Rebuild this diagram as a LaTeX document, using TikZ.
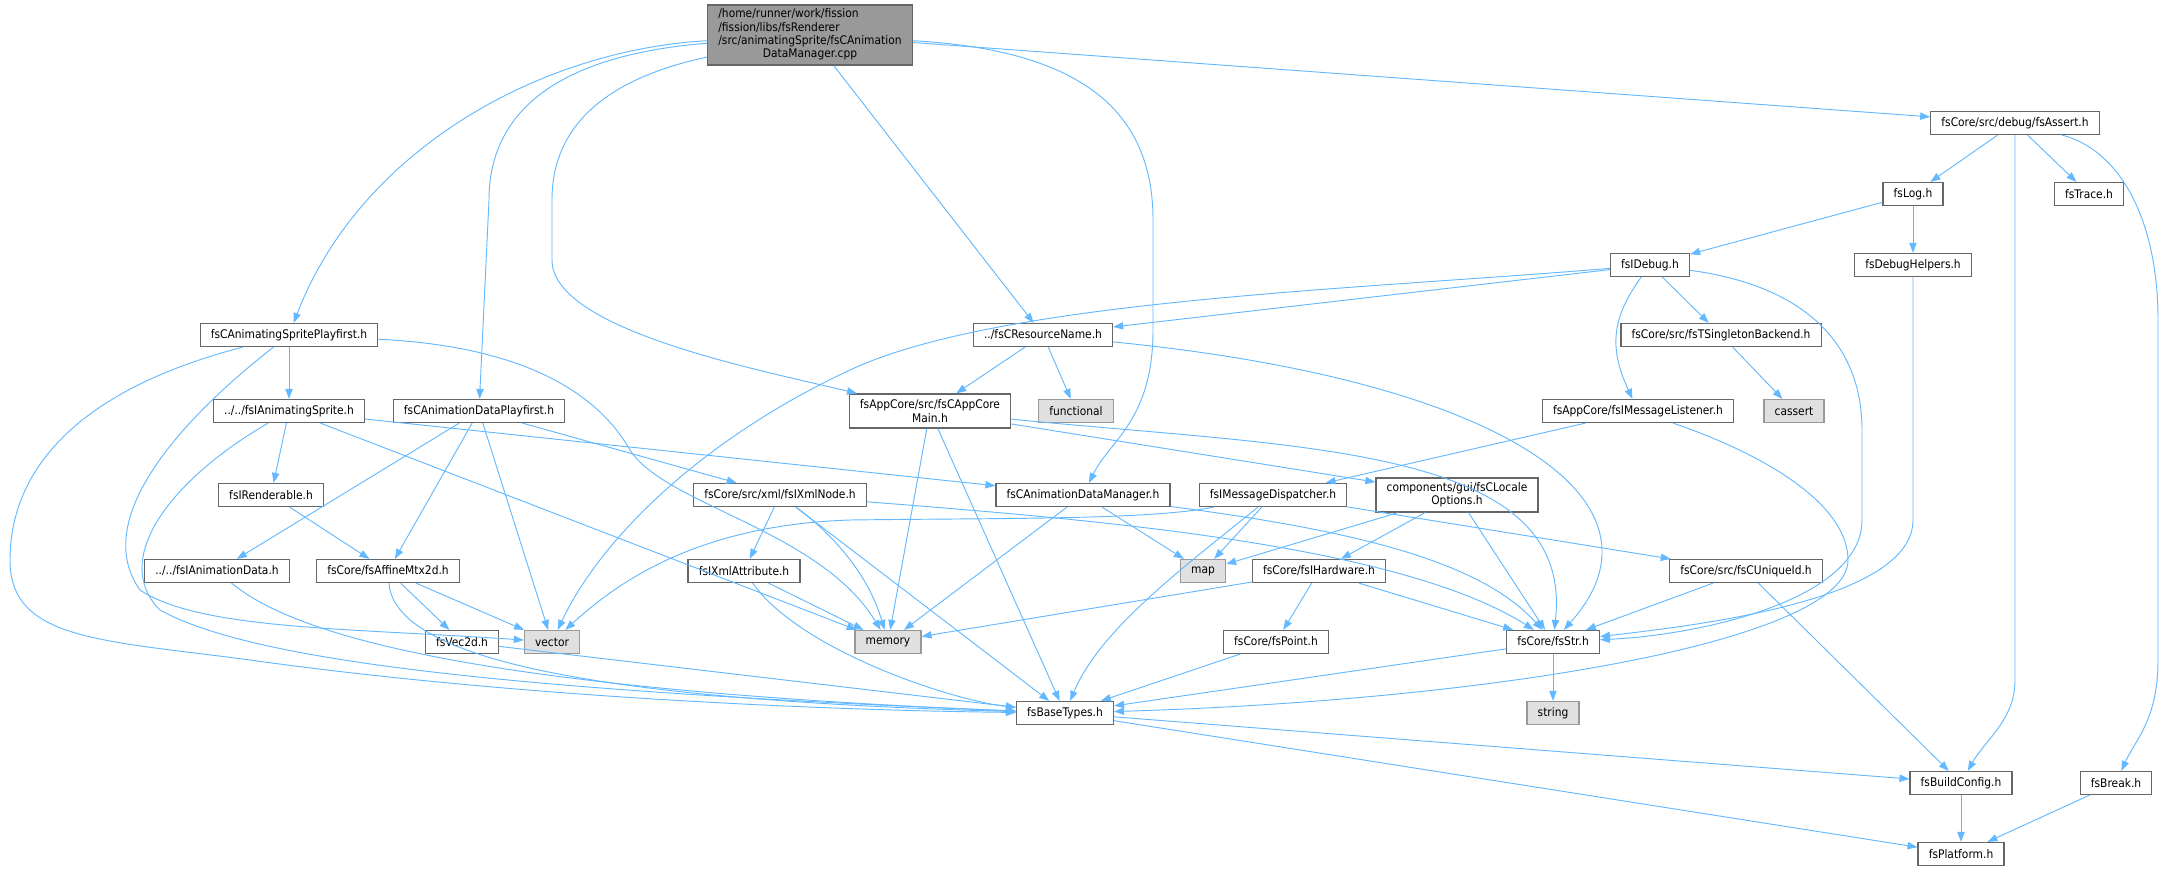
\documentclass[tikz,border=0pt]{standalone}
\usepackage{fontspec}
\newfontfamily\dotfont[FakeStretch=0.9]{DejaVu Sans}
\usetikzlibrary{arrows.meta}
\definecolor{incblue}{HTML}{63B8FF}
\definecolor{boxline}{HTML}{666666}
\definecolor{sysfill}{HTML}{E0E0E0}
\definecolor{sysline}{HTML}{999999}
\definecolor{rootfill}{HTML}{999999}

\begin{document}
\begin{tikzpicture}[x=0.75pt,y=-0.75pt,->,>={Triangle[length=7.5pt,width=5.5pt]},
  line width=0.7pt,inc/.style={draw=incblue},every edge/.style={inc},
  file/.style={draw=boxline,fill=white,line width=0.9pt,font=\dotfont\fontsize{8.9}{10}\selectfont,
    inner xsep=8pt,inner ysep=2pt,minimum height=17.25pt,align=center},
  sysfile/.style={file,draw=sysline,fill=sysfill},
  root/.style={file,fill=rootfill,inner ysep=2.5pt}]

  \useasboundingbox (0,0) rectangle (2164,871);

  \node[root] (cpp) at (810,35) {\begin{tabular}{@{}l@{}}/home/runner/work/fission\\/fission/libs/fsRenderer\\/src/animatingSprite/fsCAnimation\\\multicolumn{1}{@{}c@{}}{DataManager.cpp}\end{tabular}};
  \node[file] (assert) at (2015,123) {fsCore/src/debug/fsAssert.h};
  \node[file] (log) at (1913,194) {fsLog.h};
  \node[file] (trace) at (2089,194) {fsTrace.h};
  \node[file] (idebug) at (1650,265) {fsIDebug.h};
  \node[file] (dhelp) at (1913,265) {fsDebugHelpers.h};
  \node[file] (asp) at (289,335) {fsCAnimatingSpritePlayfirst.h};
  \node[file] (rname) at (1043,335) {../fsCResourceName.h};
  \node[file] (singleton) at (1721,335) {fsCore/src/fsTSingletonBackend.h};
  \node[file] (ias) at (289,411) {../../fsIAnimatingSprite.h};
  \node[file] (adp) at (479,411) {fsCAnimationDataPlayfirst.h};
  \node[file,minimum height=25.5pt] (appmain) at (930,411) {fsAppCore/src/fsCAppCore\\Main.h};
  \node[sysfile] (functional) at (1076,411) {functional};
  \node[file] (mlist) at (1638,411) {fsAppCore/fsIMessageListener.h};
  \node[sysfile] (cassert) at (1794,411) {cassert};
  \node[file] (rend) at (271,495) {fsIRenderable.h};
  \node[file] (xnode) at (780,495) {fsCore/src/xml/fsIXmlNode.h};
  \node[file] (dmh) at (1083,495) {fsCAnimationDataManager.h};
  \node[file] (mdisp) at (1273,495) {fsIMessageDispatcher.h};
  \node[file,minimum height=25.5pt] (locale) at (1457,495) {components/gui/fsCLocale\\Options.h};
  \node[file] (iad) at (217,571) {../../fsIAnimationData.h};
  \node[file] (affine) at (388,571) {fsCore/fsAffineMtx2d.h};
  \node[file] (xattr) at (744,571) {fsIXmlAttribute.h};
  \node[sysfile] (map) at (1203,571) {map};
  \node[file] (hw) at (1319,571) {fsCore/fsIHardware.h};
  \node[file] (uid) at (1746,571) {fsCore/src/fsCUniqueId.h};
  \node[file] (vec2d) at (462,642) {fsVec2d.h};
  \node[sysfile] (vector) at (552,642) {vector};
  \node[sysfile] (memory) at (888,642) {memory};
  \node[file] (point) at (1276,642) {fsCore/fsPoint.h};
  \node[file] (str) at (1553,642) {fsCore/fsStr.h};
  \node[file] (base) at (1065,713) {fsBaseTypes.h};
  \node[sysfile] (string) at (1553,713) {string};
  \node[file] (bconf) at (1961,783) {fsBuildConfig.h};
  \node[file] (break) at (2116,783) {fsBreak.h};
  \node[file] (platform) at (1961,854) {fsPlatform.h};

  \path
    (cpp) edge (assert)
          edge (rname)
    (assert) edge (log)
             edge (trace)
    (log) edge (idebug)
          edge (dhelp)
    (idebug) edge (rname)
             edge (singleton)
    (singleton) edge (cassert)
    (rname) edge (appmain)
            edge (functional)
    (appmain) edge (locale)
              edge (memory)
              edge (base)
    (asp) edge (ias)
    (ias) edge (rend)
          edge (memory)
          edge (dmh)
    (adp) edge (iad)
          edge (affine)
          edge (vector)
          edge (xnode)
    (rend) edge (affine)
    (affine) edge (vec2d)
             edge (vector)
    (vec2d) edge (base)
    (xnode) edge (xattr)
            edge (base)
    (xattr) edge (memory)
    (dmh) edge (map)
          edge (memory)
    (mlist) edge (mdisp)
    (mdisp) edge (map)
            edge (uid)
    (locale) edge (map)
             edge (hw)
             edge (str)
    (hw) edge (memory)
         edge (point)
         edge (str)
    (uid) edge (str)
          edge (bconf)
    (point) edge (base)
    (str) edge (base)
          edge (string)
    (base) edge (bconf)
           edge (platform)
    (bconf) edge (platform)
    (break) edge (platform);

  \draw[inc] (cpp) .. controls (540,50) and (360,150) .. (asp);
  \draw[inc] (cpp) .. controls (560,55) and (489,110) .. (489,200) -- (adp);
  \draw[inc] (cpp) .. controls (600,80) and (552,130) .. (552,200) -- (552,260) .. controls (552,330) and (760,370) .. (appmain);
  \draw[inc] (cpp) .. controls (1080,50) and (1153,110) .. (1153,220) -- (1153,330) .. controls (1153,420) and (1110,440) .. (dmh);
  \draw[inc] (assert) -- (2015,680) .. controls (2015,720) and (1985,740) .. (bconf);
  \draw[inc] (assert) .. controls (2120,150) and (2158,220) .. (2158,320) -- (2158,660) .. controls (2158,720) and (2135,740) .. (break);
  \draw[inc] (dhelp) -- (1913,520) .. controls (1913,600) and (1700,625) .. (str);
  \draw[inc] (idebug) .. controls (1800,285) and (1862,340) .. (1862,430) -- (1862,520) .. controls (1862,600) and (1700,635) .. (str);
  \draw[inc] (idebug) .. controls (1350,290) and (1000,300) .. (850,370) .. controls (700,440) and (600,540) .. (vector);
  \draw[inc] (idebug) .. controls (1610,320) and (1610,350) .. (mlist);
  \draw[inc] (mlist) .. controls (1780,460) and (1848,510) .. (1848,560) .. controls (1848,640) and (1500,700) .. (base);
  \draw[inc] (rname) .. controls (1500,380) and (1680,500) .. (str);
  \draw[inc] (appmain) .. controls (1300,448) and (1575,445) .. (str);
  \draw[inc] (asp) .. controls (180,420) and (90,520) .. (140,590) .. controls (200,630) and (350,628) .. (vector);
  \draw[inc] (asp) .. controls (40,400) and (10,500) .. (10,560) .. controls (10,640) and (100,640) .. (250,660) .. controls (500,695) and (800,710) .. (base);
  \draw[inc] (asp) .. controls (500,345) and (590,380) .. (630,450) .. controls (665,505) and (820,530) .. (memory);
  \draw[inc] (ias) .. controls (170,480) and (110,560) .. (160,610) .. controls (250,660) and (500,690) .. (base);
  \draw[inc] (iad) .. controls (300,640) and (500,690) .. (base);
  \draw[inc] (affine) .. controls (395,660) and (600,700) .. (base);
  \draw[inc] (xnode) .. controls (840,540) and (870,580) .. (memory);
  \draw[inc] (xnode) .. controls (1100,520) and (1400,545) .. (str);
  \draw[inc] (xattr) .. controls (800,650) and (950,700) .. (base);
  \draw[inc] (dmh) .. controls (1350,530) and (1480,560) .. (str);
  \draw[inc] (mdisp) .. controls (1150,520) and (1000,518) .. (850,520) .. controls (700,525) and (620,580) .. (vector);
  \draw[inc] (mdisp) .. controls (1180,570) and (1100,630) .. (base);
\end{tikzpicture}
\end{document}
